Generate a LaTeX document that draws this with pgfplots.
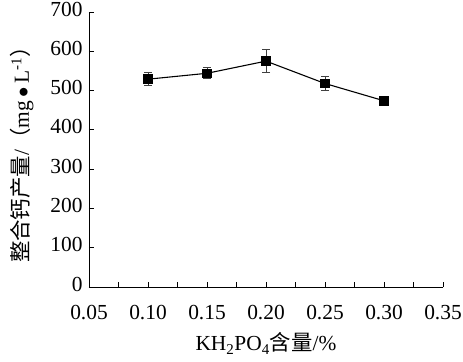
\documentclass[border=0pt]{standalone}
\usepackage{pgfplots}
\pgfplotsset{compat=1.18}
\usepackage{fontspec}
\setmainfont{Liberation Serif}
\newfontfamily\cjk{Noto Sans CJK SC}
\begin{document}
\begin{tikzpicture}
\begin{axis}[
  scale only axis,
  width=354bp, height=275bp,
  xmin=0.05, xmax=0.35, ymin=0, ymax=700,
  axis lines*=left,
  axis line style={line width=1pt, -},
  xtick={0.05,0.10,...,0.35},
  minor xtick={0.075,0.125,0.175,0.225,0.275,0.325},
  ytick={0,100,...,700},
  tick align=inside,
  major tick length=5bp, minor tick length=5bp,
  tick style={black, line width=0.8pt},
  /pgf/number format/assume math mode=true,
  xticklabel={\pgfmathprintnumber[fixed,fixed zerofill,precision=2]{\tick}},
  ticklabel style={font=\fontsize{21.5}{23}\selectfont},
  xticklabel style={yshift=-15bp},
  yticklabel style={xshift=-3bp, yshift=3bp},
  xlabel={KH\textsubscript{2}PO\textsubscript{4}{\cjk 含量}/\%},
  ylabel={{\cjk 整合钙产量}/{\cjk （}mg\,$\bullet$\,L\textsuperscript{-1}{\cjk ）}},
  label style={font=\fontsize{21.5}{23}\selectfont},
  xlabel style={yshift=-6bp},
  ylabel style={yshift=10bp},
]
\addplot[black, line width=1.1pt, mark=square*, mark size=4.2bp,
  error bars/.cd, y dir=both, y explicit,
  error bar style={line width=1pt, black!75},
  error mark options={rotate=90, mark size=4bp, line width=1pt, black!75}]
  coordinates {
  (0.10,529) +- (0,17)
  (0.15,544) +- (0,14)
  (0.20,575) +- (0,29)
  (0.25,518) +- (0,17)
  (0.30,474) +- (0,4)
};
\end{axis}
\pgfresetboundingbox
\path[use as bounding box] (current axis.south west) ++(-89bp,-75bp) rectangle ++(463bp,362bp);
\end{tikzpicture}
\end{document}
